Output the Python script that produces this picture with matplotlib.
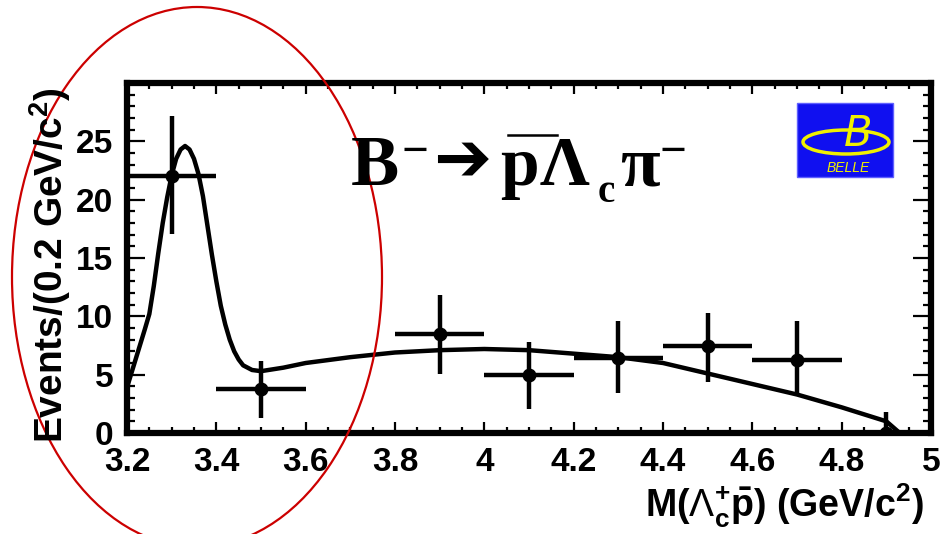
import numpy as np
import matplotlib
matplotlib.use('Agg')
import matplotlib.pyplot as plt
from matplotlib.patches import Ellipse, Rectangle
from matplotlib.lines import Line2D
from matplotlib.ticker import MultipleLocator

plt.rcParams['font.family'] = ['Liberation Sans', 'DejaVu Sans']
plt.rcParams['mathtext.fontset'] = 'custom'
plt.rcParams['mathtext.rm'] = 'Liberation Sans'
plt.rcParams['mathtext.bf'] = 'Liberation Sans:bold'
plt.rcParams['mathtext.it'] = 'Liberation Sans:italic'

# data points (bin centres, events per 0.2 GeV/c^2)
mass = [3.3, 3.5, 3.9, 4.1, 4.3, 4.5, 4.7, 4.9]
events = [22.0, 3.8, 8.5, 5.0, 6.4, 7.5, 6.3, 0.0]
err_lo = [4.9, 2.5, 3.4, 2.9, 3.0, 3.1, 3.0, 0.0]
err_hi = [5.2, 2.4, 3.3, 2.8, 3.2, 2.8, 3.3, 1.8]
bin_half = 0.1

# fit curve
fit_x = [3.20, 3.22, 3.24, 3.25, 3.26, 3.27, 3.28, 3.29, 3.30, 3.31, 3.32, 3.33,
         3.34, 3.35, 3.36, 3.37, 3.38, 3.39, 3.40, 3.41, 3.42, 3.43, 3.44, 3.45,
         3.46, 3.48, 3.50, 3.55, 3.60, 3.70, 3.80, 3.90, 4.00, 4.10, 4.20, 4.30,
         4.40, 4.50, 4.60, 4.70, 4.80, 4.90, 4.93, 5.00]
fit_y = [3.9, 6.4, 8.9, 10.2, 12.6, 15.4, 18.0, 20.2, 22.1, 23.5, 24.3, 24.6,
         24.3, 23.5, 22.2, 20.3, 17.8, 15.3, 13.0, 10.9, 9.3, 8.0, 7.0, 6.3,
         5.8, 5.4, 5.3, 5.6, 6.0, 6.5, 6.9, 7.1, 7.2, 7.1, 6.8, 6.5,
         6.0, 5.1, 4.2, 3.3, 2.2, 1.0, 0.0, 0.0]

W, H = 952, 534


def fx(px):
    return px / W


def fy(py):
    return 1 - py / H


fig = plt.figure(figsize=(W / 100, H / 100), dpi=100)
ax = fig.add_axes([fx(127), fy(433), fx(931) - fx(127), fy(83) - fy(433)])

ax.plot(fit_x, fit_y, color='black', lw=3.2, solid_joinstyle='round')
ax.errorbar(mass, events, xerr=bin_half, yerr=[err_lo, err_hi], fmt='o',
            color='black', ms=9, elinewidth=3.2, capsize=0)

ax.set_xlim(3.2, 5.0)
ax.set_ylim(0, 30)
ax.xaxis.set_minor_locator(MultipleLocator(0.05))
ax.yaxis.set_minor_locator(MultipleLocator(1))
ax.set_yticks([0, 5, 10, 15, 20, 25])
ax.set_xticks([3.2, 3.4, 3.6, 3.8, 4.0, 4.2, 4.4, 4.6, 4.8, 5.0])
ax.set_xticklabels(['3.2', '3.4', '3.6', '3.8', '4', '4.2', '4.4', '4.6', '4.8', '5'])

for s in ax.spines.values():
    s.set_linewidth(4.5)
ax.tick_params(axis='both', which='both', direction='in', top=True, right=True,
               width=1.6, labelsize=24)
ax.tick_params(axis='x', which='major', length=8, pad=10)
ax.tick_params(axis='x', which='minor', length=4)
ax.tick_params(axis='y', which='major', length=13, pad=10)
ax.tick_params(axis='y', which='minor', length=6)
for lab in ax.get_xticklabels() + ax.get_yticklabels():
    lab.set_fontweight('bold')

fig.text(fx(50), fy(265), r'Events/(0.2 GeV/c$^{\mathbf{2}}$)', rotation=90,
         ha='center', va='center', fontsize=28, fontweight='bold')
fig.text(fx(924), fy(517),
         r'M($\Lambda_{\mathbf{c}}^{\mathbf{+}}\mathbf{\bar{p}}$) (GeV/c$^{\mathbf{2}}$)',
         ha='right', va='baseline', fontsize=27, fontweight='bold')

# decay title, built piece by piece
serif = dict(family='Liberation Serif', fontweight='bold', va='baseline', ha='left')
fig.text(fx(351), fy(185), 'B', fontsize=52, **serif)
fig.text(fx(401), fy(165), '\u2212', fontsize=34, **serif)
fig.text(fx(433), fy(181), '\u2794', fontsize=50, family='DejaVu Sans',
         fontweight='bold', va='baseline', ha='left')
fig.text(fx(500), fy(185), 'p', fontsize=50, **serif)
fig.add_artist(Line2D([fx(508), fx(557)], [fy(135), fy(135)], color='black', lw=1.8))
fig.text(fx(540), fy(185), '\u039b', fontsize=50, **serif)
fig.text(fx(598), fy(202), 'c', fontsize=28, **serif)
fig.text(fx(620), fy(185), '\u03c0', fontsize=52, **serif)
fig.text(fx(659), fy(165), '\u2212', fontsize=34, **serif)

# Belle logo
fig.add_artist(Rectangle((fx(797), fy(177)), fx(893) - fx(797), fy(103) - fy(177),
                         transform=fig.transFigure, facecolor='#1010f0',
                         edgecolor='#6060ff', lw=1))
fig.add_artist(Ellipse((fx(846), fy(142)), 86 / W, 24 / H, transform=fig.transFigure,
                       fill=False, edgecolor='#f0f000', lw=2.5))
fig.text(fx(858), fy(146), 'B', fontsize=30, color='#f0f000', style='italic',
         ha='center', va='baseline', family='DejaVu Sans')
fig.text(fx(848), fy(172), 'BELLE', fontsize=10, color='#f0f000', style='italic',
         ha='center', va='baseline')

# red ellipse around the peak
fig.add_artist(Ellipse((fx(197), fy(277)), 370 / W, 540 / H, transform=fig.transFigure,
                       fill=False, edgecolor='#cc0000', lw=1.6, clip_on=False))

fig.savefig('out.png', dpi=100)
